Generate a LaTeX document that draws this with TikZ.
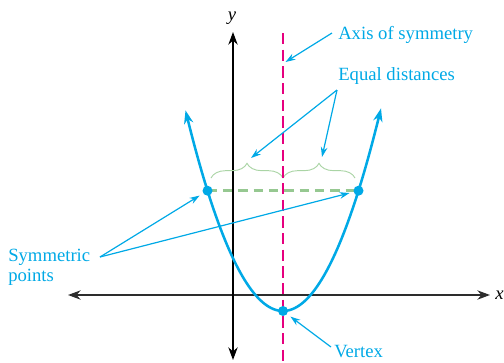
\documentclass[tikz,border=0pt]{standalone}
\usepackage{fontspec}
\setmainfont{Liberation Serif}
\usetikzlibrary{arrows.meta,decorations.pathreplacing}
\definecolor{cy}{RGB}{0,169,230}
\definecolor{mag}{RGB}{230,0,126}
\definecolor{grn}{RGB}{150,200,145}
\definecolor{grnl}{RGB}{170,212,165}
\definecolor{axgray}{RGB}{45,45,45}
\begin{document}
\begin{tikzpicture}[x=0.75pt,y=-0.75pt,
 lbl/.style={text=cy,font=\fontsize{14}{16}\selectfont,inner sep=0pt,anchor=base west},
 pointer/.style={draw=cy,line width=0.9pt,-{Stealth[length=7.5pt,width=5pt]}},
 axisline/.style={line width=1pt,{Stealth[length=9.5pt,width=7pt]}-{Stealth[length=9.5pt,width=7pt]}},
 curve/.style={draw=cy,line width=1.9pt,{Stealth[length=10pt,width=7pt]}-{Stealth[length=10pt,width=7pt]}},
 dot/.style={circle,fill=cy,inner sep=0pt,minimum size=7.5pt},
 eqdash/.style={draw=grn,line width=2.2pt,dash pattern=on 7pt off 4.5pt},
 symline/.style={draw=mag,line width=2.2pt,dash pattern=on 8.5pt off 4pt},
 bracestyle/.style={draw=grnl,line width=0.7pt,decorate,decoration={brace,amplitude=11pt}},
]
\useasboundingbox (0,0) rectangle (504,362);
% axes
\coordinate (xl) at (68,295);
\coordinate (xr) at (490,295);
\coordinate (yb) at (233,360);
\coordinate (yt) at (233,32);
\draw[axisline,axgray] (xl) -- (xr);
\draw[axisline,black] (yb) -- (yt);
\node[inner sep=0pt,anchor=base,font=\fontsize{14}{16}\selectfont] (ylab) at (232,20) {\textit{y}};
\node[inner sep=0pt,anchor=base west,font=\fontsize{14}{16}\selectfont] (xlab) at (495,299) {\textit{x}};
% key points
\coordinate (Pc) at (207.5,190.7);
\coordinate (Qc) at (358.5,190.7);
\coordinate (Vc) at (283,311);
% equal distances dashed line
\draw[eqdash] (Pc) -- (Qc);
% braces
\coordinate (b1) at (211,178);
\coordinate (bm) at (283,178);
\coordinate (b2) at (355,178);
\draw[bracestyle] (b1) -- (bm);
\draw[bracestyle] (bm) -- (b2);
% parabola
\draw[curve] plot[domain=-97.5:98,samples=90] ({283+\x},{311-0.0211*\x*\x});
% axis of symmetry
\coordinate (mt) at (283,33);
\coordinate (mb) at (283,366);
\draw[symline] (mt) -- (mb);
% dots
\node[dot] (P) at (Pc) {};
\node[dot] (Q) at (Qc) {};
\node[dot] (V) at (Vc) {};
% labels
\node[lbl] (axis) at (338,39.5) {Axis of symmetry};
\node[lbl] (eq) at (338,80) {Equal distances};
\node[lbl] (sym1) at (8,261) {Symmetric};
\node[lbl] (sym2) at (8,281) {points};
\node[lbl] (vx) at (334,357) {Vertex};
% pointers
\coordinate (as) at (332,33);
\coordinate (ae) at (285.5,62);
\draw[pointer] (as) -- (ae);
\coordinate (es) at (337,90);
\coordinate (e1) at (251,158);
\coordinate (e2) at (322,157);
\draw[pointer] (es) -- (e1);
\draw[pointer] (es) -- (e2);
\coordinate (ss) at (100,257);
\draw[pointer,shorten >=3pt] (ss) -- (P);
\draw[pointer,shorten >=3pt] (ss) -- (Q);
\coordinate (vs) at (331,347);
\draw[pointer,shorten >=3pt] (vs) -- (V);
\end{tikzpicture}
\end{document}
